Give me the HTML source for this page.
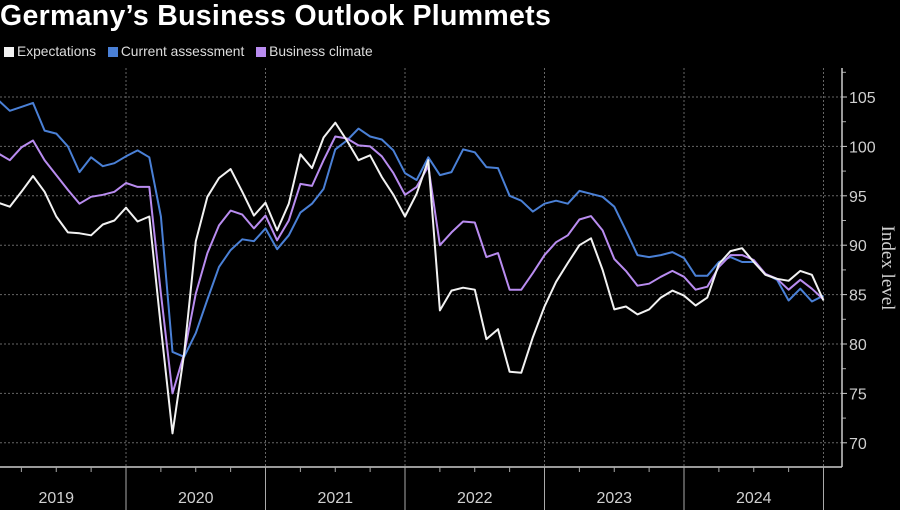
<!DOCTYPE html>
<html><head><meta charset="utf-8"><style>
body{margin:0;background:#000;width:900px;height:510px;overflow:hidden;font-family:"Liberation Sans",sans-serif}
#title{position:absolute;left:0;top:0px;font-size:28.5px;font-weight:bold;color:#fff;letter-spacing:0.3px;white-space:nowrap}
#legend{position:absolute;left:4px;top:44px;font-size:13.8px;color:#ddd;white-space:nowrap}
.li{display:inline-block;margin-right:8px}
.sw{display:inline-block;width:10px;height:10px;margin-right:3px;vertical-align:-1px}
svg{position:absolute;left:0;top:0}
</style></head><body>
<div id="title">Germany’s Business Outlook Plummets</div>
<div id="legend">
<span class="li"><span class="sw" style="background:#f2f2f2"></span>Expectations</span>
<span class="li"><span class="sw" style="background:#4a80d6"></span>Current assessment</span>
<span class="li"><span class="sw" style="background:#b98cf0"></span>Business climate</span>
</div>
<svg id="chart" width="900" height="510"></svg>
<script>
const years=["2019","2020","2021","2022","2023","2024"];
const yTicks=[70,75,80,85,90,95,100,105];
const expectations=[94.3,93.9,95.4,97.0,95.4,92.9,91.3,91.2,91.0,92.1,92.5,93.8,92.4,92.9,81.7,70.95,79.0,90.4,94.9,96.8,97.7,95.4,93.0,94.3,91.5,94.2,99.2,97.8,100.9,102.4,100.6,98.6,99.1,96.9,95.1,92.9,95.2,98.6,83.4,85.4,85.7,85.5,80.5,81.5,77.2,77.1,80.7,83.8,86.3,88.2,90.0,90.7,87.5,83.5,83.8,83.0,83.5,84.7,85.4,84.9,83.9,84.7,88.1,89.4,89.7,88.3,87.0,86.6,86.4,87.4,87.0,84.4];
const current=[104.7,103.6,104.0,104.4,101.6,101.3,100.0,97.4,98.9,98.0,98.3,99.0,99.6,98.9,92.9,79.2,78.7,81.1,84.5,87.8,89.5,90.6,90.4,91.7,89.6,91.0,93.3,94.2,95.7,99.7,100.6,101.8,101.0,100.7,99.6,97.3,96.6,98.9,97.1,97.4,99.7,99.4,97.9,97.8,95.0,94.5,93.4,94.2,94.5,94.2,95.5,95.2,94.9,93.9,91.5,89.0,88.8,89.0,89.3,88.7,86.9,86.9,88.3,88.8,88.3,88.3,87.1,86.5,84.4,85.6,84.3,84.9];
const climate=[99.3,98.6,99.9,100.6,98.6,97.1,95.6,94.2,94.9,95.1,95.4,96.3,95.9,95.9,85.1,75.0,79.0,85.1,89.2,92.0,93.5,93.1,91.7,93.0,90.5,92.5,96.2,96.0,98.6,101.0,100.8,100.1,100.0,99.0,97.3,95.1,95.9,98.0,90.0,91.3,92.4,92.3,88.8,89.2,85.5,85.5,87.2,89.0,90.3,91.0,92.6,92.95,91.5,88.6,87.4,85.9,86.1,86.8,87.4,86.8,85.5,85.8,87.8,89.0,89.0,88.5,87.1,86.6,85.5,86.5,85.6,84.5];
const NS="http://www.w3.org/2000/svg";
const svg=document.getElementById('chart');
const X0=126-139.5, MW=139.5/12, AX=842, AY=467;
function xm(i){return X0+(i+1)*MW;}
function yv(v){return 97+(105-v)*9.88;}
function mk(t,a){const e=document.createElementNS(NS,t);for(const k in a)e.setAttribute(k,a[k]);svg.appendChild(e);return e;}
yTicks.forEach(v=>{
 const g=mk('line',{x1:0,x2:AX,y1:yv(v),y2:yv(v),stroke:'#666','stroke-width':1,'stroke-dasharray':'2,2'});
 
 
 mk('line',{x1:AX,x2:AX+5,y1:yv(v),y2:yv(v),stroke:'#ccc','stroke-width':1});
 const t=mk('text',{x:AX+7,y:yv(v)+6,fill:'#d0d0d0','font-size':16,'font-family':'Liberation Sans, sans-serif'});
 t.textContent=v;
 
 
 if(v<105) mk('line',{x1:AX,x2:AX+4,y1:yv(v+2.5),y2:yv(v+2.5),stroke:'#aaa','stroke-width':1});
});
mk('line',{x1:AX,x2:AX+4,y1:yv(107.5),y2:yv(107.5),stroke:'#aaa','stroke-width':1});
mk('line',{x1:AX,x2:AX,y1:68,y2:AY,stroke:'#ccc','stroke-width':1.5});
mk('line',{x1:0,x2:AX,y1:AY,y2:AY,stroke:'#ccc','stroke-width':1.5});
for(let k=0;k<=years.length;k++){
 const x=126+(k-1)*139.5;
 if(k>=1){
  const g=mk('line',{x1:x,x2:x,y1:68,y2:AY,stroke:'#666','stroke-width':1,'stroke-dasharray':'2,2'});
  
  
  mk('line',{x1:x,x2:x,y1:AY,y2:510,stroke:'#aaa','stroke-width':1});
 }
 if(k<years.length){
  for(let q=1;q<4;q++){const qx=x+q*139.5/4;mk('line',{x1:qx,x2:qx,y1:AY,y2:AY+5,stroke:'#aaa','stroke-width':1});}
  const t=mk('text',{x:x+69.75,y:503,fill:'#d0d0d0','font-size':16,'text-anchor':'middle','font-family':'Liberation Sans, sans-serif'});
  t.textContent=years[k];
  
  
 }
}
const yt=mk('text',{x:0,y:0,fill:'#d0d0d0','font-size':19,'text-anchor':'middle','font-family':'Liberation Serif, serif',transform:'translate(882,268) rotate(90)'});
yt.textContent='Index level';


function line(arr,col,name){
 const d=arr.map((v,i)=>(i?'L':'M')+xm(i).toFixed(1)+','+yv(v).toFixed(1)).join('');
 const p=mk('path',{d:d,fill:'none',stroke:col,'stroke-width':2,'stroke-linejoin':'round'});
 
 
}
line(current,'#4a80d6','current-assessment-line');
line(climate,'#b98cf0','business-climate-line');
line(expectations,'#f2f2f2','expectations-line');
</script>
</body></html>
